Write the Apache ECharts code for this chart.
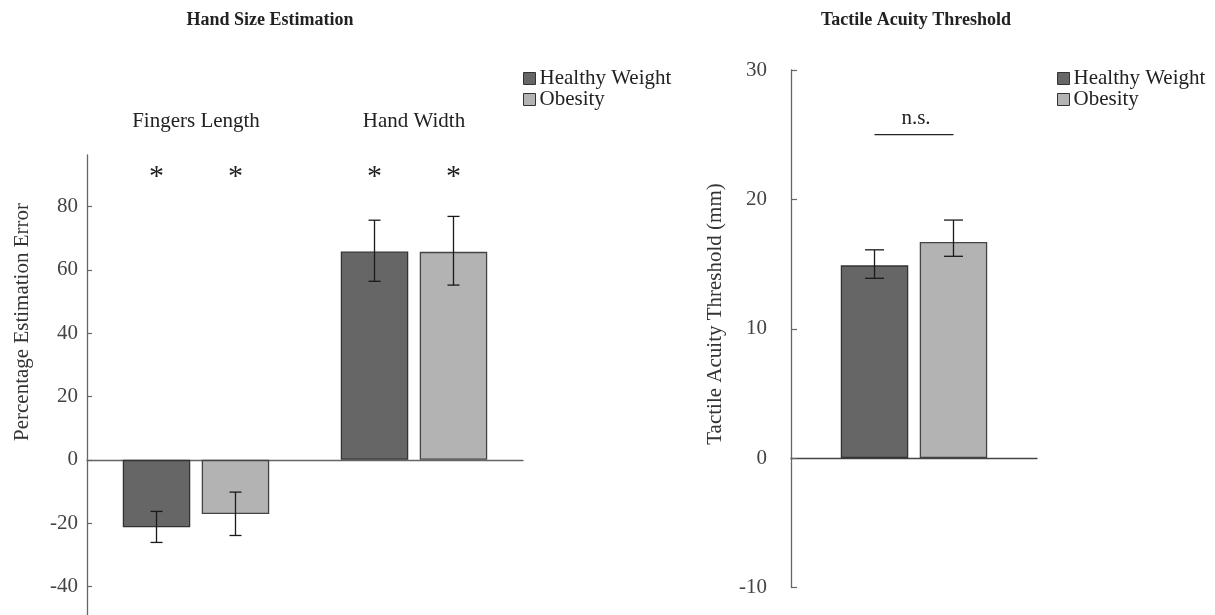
<!DOCTYPE html>
<html>
<head>
<meta charset="utf-8">
<script src="https://cdn.jsdelivr.net/npm/echarts@6/dist/echarts.min.js"></script>
<style>
  html, body { margin: 0; padding: 0; background: #fff; }
  #chart { width: 1215px; height: 615px; }
</style>
</head>
<body>
<div id="chart"></div>
<script>
  // hand size estimation (percentage error)
  const categories = ['Fingers Length', 'Hand Width'];
  const hwMean = [-21.3, 65.8];
  const hwLow = [-26.1, 56.4];
  const hwHigh = [-16.3, 75.7];
  const obMean = [-17.1, 65.7];
  const obLow = [-23.9, 55.2];
  const obHigh = [-10.2, 76.9];
  const sigMarks = ['*', '*'];
  const sigLevel = 90.5;

  // tactile acuity threshold (mm)
  const tacCategories = ['Tactile Acuity'];
  const tacHwMean = [14.9];
  const tacHwLow = [13.9];
  const tacHwHigh = [16.1];
  const tacObMean = [16.7];
  const tacObLow = [15.6];
  const tacObHigh = [18.4];
  const nsLevel = 25.0;

  const FONT = '"Liberation Serif", "Times New Roman", serif';
  const FS = 21;
  const DARK = '#666666';
  const LIGHT = '#b3b3b3';
  const BAR_W = 67.5;
  const BAR_GAP = 0.17;
  const OFF = BAR_W * (1 + BAR_GAP) / 2;
  const axisLine = { show: true, lineStyle: { color: '#666', width: 1.3 } };

  function errorBars(offset, cap) {
    return function (params, api) {
      const c = api.value(0);
      const x = api.coord([c, 0])[0] + offset;
      const y1 = api.coord([c, api.value(1)])[1];
      const y2 = api.coord([c, api.value(2)])[1];
      const st = { stroke: '#1a1a1a', lineWidth: 1.3 };
      return {
        type: 'group',
        children: [
          { type: 'line', shape: { x1: x, y1: y1, x2: x, y2: y2 }, style: st },
          { type: 'line', shape: { x1: x - cap / 2, y1: y1, x2: x + cap / 2, y2: y1 }, style: st },
          { type: 'line', shape: { x1: x - cap / 2, y1: y2, x2: x + cap / 2, y2: y2 }, style: st }
        ]
      };
    };
  }

  const legendBase = {
    orient: 'vertical', top: 68, padding: 0, itemWidth: 12, itemHeight: 12, itemGap: 0, icon: 'rect',
    itemStyle: { borderColor: '#333', borderWidth: 1 },
    textStyle: { fontFamily: FONT, fontSize: FS, lineHeight: 18, color: '#222', padding: [0, 0, 0, -1] },
    data: ['Healthy Weight', 'Obesity']
  };

  const chart = echarts.init(document.getElementById('chart'), null, { renderer: 'canvas' });

  chart.setOption({
    animation: false,
    backgroundColor: '#fff',
    textStyle: { fontFamily: FONT },
    title: [
      { text: 'Hand Size Estimation', left: 265, top: 6, textAlign: 'center',
        textStyle: { fontFamily: FONT, fontWeight: 'bold', fontSize: 18, color: '#222' } },
      { text: 'Tactile Acuity Threshold', left: 911, top: 6, textAlign: 'center',
        textStyle: { fontFamily: FONT, fontWeight: 'bold', fontSize: 18, color: '#222' } }
    ],
    legend: [
      Object.assign({}, legendBase, { left: 523 }),
      Object.assign({}, legendBase, { left: 1057 })
    ],
    graphic: [
      { type: 'text', x: 22, y: 322, rotation: Math.PI / 2,
        style: { text: 'Percentage Estimation Error', font: FS + 'px ' + FONT, fill: '#333',
                 textAlign: 'center', textVerticalAlign: 'middle' } },
      { type: 'text', x: 715, y: 314, rotation: Math.PI / 2,
        style: { text: 'Tactile Acuity Threshold (mm)', font: FS + 'px ' + FONT, fill: '#333',
                 textAlign: 'center', textVerticalAlign: 'middle' } }
    ],
    grid: [
      { left: 87, right: 692, top: 155, bottom: -34.75, outerBoundsMode: 'none' },
      { left: 791, right: 178, top: 70, bottom: 27.5, outerBoundsMode: 'none' }
    ],
    xAxis: [
      { gridIndex: 0, type: 'category', data: categories,
        axisLine: { onZero: true, lineStyle: { color: '#666', width: 1.3 } },
        axisTick: { show: false }, axisLabel: { show: false } },
      { gridIndex: 0, type: 'category', data: categories, position: 'top',
        axisLine: { show: false, onZero: false }, axisTick: { show: false },
        axisLabel: { margin: 23, fontFamily: FONT, fontSize: FS, color: '#222' } },
      { gridIndex: 1, type: 'category', data: tacCategories,
        axisLine: { onZero: true, lineStyle: { color: '#444', width: 1.3 } },
        axisTick: { show: false }, axisLabel: { show: false } }
    ],
    yAxis: [
      { gridIndex: 0, type: 'value', min: -60, max: 96.3, interval: 20,
        splitLine: { show: false }, axisLine: axisLine,
        axisTick: { show: true, inside: true, length: 5, lineStyle: { color: '#666', width: 1.2 } },
        axisLabel: { showMaxLabel: false, showMinLabel: false, margin: 9,
                     fontFamily: FONT, fontSize: FS, color: '#444' } },
      { gridIndex: 1, type: 'value', min: -10, max: 30, interval: 10,
        splitLine: { show: false }, axisLine: axisLine,
        axisTick: { show: true, inside: true, length: 6, lineStyle: { color: '#666', width: 1.2 } },
        axisLabel: { margin: 24, fontFamily: FONT, fontSize: FS, color: '#444' } }
    ],
    series: [
      { name: 'Healthy Weight', type: 'bar', xAxisIndex: 0, yAxisIndex: 0, data: hwMean,
        barWidth: BAR_W, barGap: '17%',
        itemStyle: { color: DARK, borderColor: '#333', borderWidth: 1.3 } },
      { name: 'Obesity', type: 'bar', xAxisIndex: 0, yAxisIndex: 0, data: obMean,
        barWidth: BAR_W, barGap: '17%',
        itemStyle: { color: LIGHT, borderColor: '#444', borderWidth: 1.3 } },
      { type: 'custom', xAxisIndex: 0, yAxisIndex: 0, z: 5,
        renderItem: errorBars(-OFF, 12), encode: { x: 0, y: [1, 2] },
        data: categories.map((c, i) => [i, hwLow[i], hwHigh[i]]) },
      { type: 'custom', xAxisIndex: 0, yAxisIndex: 0, z: 5,
        renderItem: errorBars(OFF, 12), encode: { x: 0, y: [1, 2] },
        data: categories.map((c, i) => [i, obLow[i], obHigh[i]]) },
      { type: 'custom', xAxisIndex: 0, yAxisIndex: 0, z: 5,
        encode: { x: 0, y: 1 },
        data: categories.map((c, i) => [i, sigLevel]),
        renderItem: function (params, api) {
          const i = api.value(0);
          const p = api.coord([i, api.value(1)]);
          const mk = (dx) => ({ type: 'text', x: p[0] + dx, y: p[1] + 4,
            style: { text: sigMarks[i], font: '30px ' + FONT, fill: '#222',
                     textAlign: 'center', textVerticalAlign: 'middle' } });
          return { type: 'group', children: [mk(-OFF), mk(OFF)] };
        } },

      { name: 'Healthy Weight', type: 'bar', xAxisIndex: 2, yAxisIndex: 1, data: tacHwMean,
        barWidth: BAR_W, barGap: '17%',
        itemStyle: { color: DARK, borderColor: '#333', borderWidth: 1.3 } },
      { name: 'Obesity', type: 'bar', xAxisIndex: 2, yAxisIndex: 1, data: tacObMean,
        barWidth: BAR_W, barGap: '17%',
        itemStyle: { color: LIGHT, borderColor: '#444', borderWidth: 1.3 } },
      { type: 'custom', xAxisIndex: 2, yAxisIndex: 1, z: 5,
        renderItem: errorBars(-OFF, 19), encode: { x: 0, y: [1, 2] },
        data: tacCategories.map((c, i) => [i, tacHwLow[i], tacHwHigh[i]]) },
      { type: 'custom', xAxisIndex: 2, yAxisIndex: 1, z: 5,
        renderItem: errorBars(OFF, 19), encode: { x: 0, y: [1, 2] },
        data: tacCategories.map((c, i) => [i, tacObLow[i], tacObHigh[i]]) },
      { type: 'custom', xAxisIndex: 2, yAxisIndex: 1, z: 5,
        encode: { x: 0, y: 1 },
        data: [[0, nsLevel]],
        renderItem: function (params, api) {
          const p = api.coord([api.value(0), api.value(1)]);
          return { type: 'group', children: [
            { type: 'line', shape: { x1: p[0] - OFF, y1: p[1], x2: p[0] + OFF, y2: p[1] },
              style: { stroke: '#222', lineWidth: 1.3 } },
            { type: 'text', x: p[0] + 2, y: p[1] - 16,
              style: { text: 'n.s.', font: FS + 'px ' + FONT, fill: '#222',
                       textAlign: 'center', textVerticalAlign: 'middle' } }
          ] };
        } }
    ]
  });
</script>
</body>
</html>
